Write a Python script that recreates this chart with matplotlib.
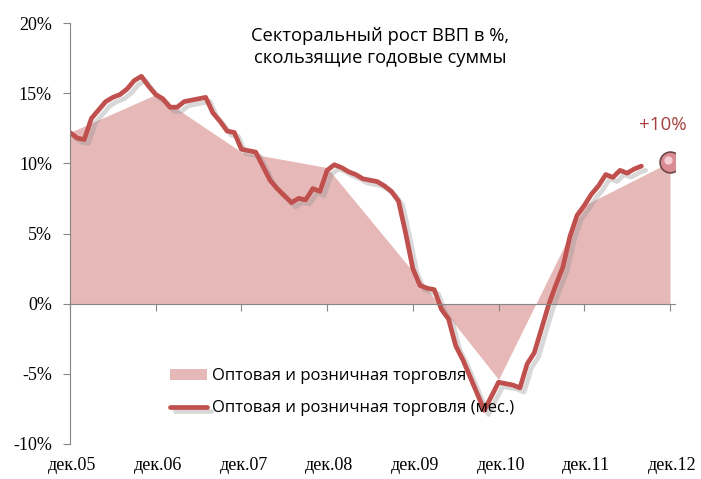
import numpy as np
import matplotlib
import matplotlib.pyplot as plt
import matplotlib.patheffects as pe
from matplotlib.transforms import offset_copy

matplotlib.use('Agg')

# === данные ===
years = ['дек.05', 'дек.06', 'дек.07', 'дек.08', 'дек.09', 'дек.10', 'дек.11', 'дек.12']
year_month = [0, 12, 24, 36, 48, 60, 72, 84]

# годовые значения (заливка)
annual_vals = [12.2, 14.9, 10.8, 9.7, 2.3, -5.4, 7.0, 10.1]

# помесячные значения (линия), с дек.05
monthly_vals = [
    12.2, 11.8, 11.7, 13.2, 13.8, 14.4, 14.7, 14.9, 15.3, 15.9, 16.2, 15.5,
    14.9, 14.6, 14.0, 14.0, 14.4, 14.5, 14.6, 14.7, 13.6, 13.0, 12.3, 12.2,
    11.0, 10.9, 10.8, 9.8, 8.8, 8.2, 7.7, 7.2, 7.5, 7.4, 8.2, 8.0,
    9.5, 9.9, 9.7, 9.4, 9.2, 8.9, 8.8, 8.7, 8.4, 8.0, 7.3, 5.0,
    2.5, 1.3, 1.1, 1.0, -0.4, -1.1, -3.0, -4.0, -5.2, -6.4, -7.6, -6.6,
    -5.6, -5.7, -5.8, -6.0, -4.3, -3.5, -1.8, -0.1, 1.3, 2.6, 4.8, 6.3,
    7.0, 7.8, 8.4, 9.2, 9.0, 9.5, 9.3, 9.6, 9.8,
]
months = np.arange(len(monthly_vals))

y_ticks = [-10, -5, 0, 5, 10, 15, 20]

title = 'Секторальный рост ВВП в %,\nскользящие годовые суммы'
label_area = 'Оптовая и розничная торговля'
label_line = 'Оптовая и розничная торговля (мес.)'

LINE_C = '#c0504d'
AREA_C = '#e6b9b8'
AXIS_C = '#868686'

fig = plt.figure(figsize=(7.01, 4.79), dpi=100)
ax = fig.add_axes([70 / 701, 35 / 479, 605 / 701, 421 / 479])

ax.fill_between(year_month, annual_vals, 0, color=AREA_C, linewidth=0,
                label=label_area)
ax.plot(months, monthly_vals, color=LINE_C, lw=3.4, solid_joinstyle='round',
        solid_capstyle='round', label=label_line,
        path_effects=[pe.SimpleLineShadow(offset=(3, -3), shadow_color='#909090', alpha=0.35),
                      pe.Normal()])

# шарик на последней точке
ax.plot(year_month[-1], annual_vals[-1], 'o', ms=15, mfc='#d98c94', mec='#6e4646',
        mew=1.2, zorder=5)
hl = offset_copy(ax.transData, fig=fig, x=-2, y=2, units='dots')
ax.plot(year_month[-1], annual_vals[-1], 'o', ms=6, mfc='#f3cfd5', mec='none',
        transform=hl, zorder=6)
ax.annotate(f'+{annual_vals[-1]:.0f}%', (year_month[-1], annual_vals[-1]),
            xytext=(-7, 37), textcoords='offset pixels', ha='center', va='center',
            fontsize=13.5, color='#a5403d', family='Open Sans')

ax.set_xlim(0, 84.7)
ax.set_ylim(-10, 20)

for s in ['top', 'right']:
    ax.spines[s].set_visible(False)
ax.spines['left'].set_color(AXIS_C)
ax.spines['bottom'].set_color(AXIS_C)
ax.spines['bottom'].set_position(('data', 0))

ax.set_yticks(y_ticks)
ax.set_yticklabels([f'{v}%' for v in y_ticks], family='Liberation Serif', fontsize=13)
ax.tick_params(axis='y', direction='out', length=5, color=AXIS_C, pad=8)

ax.set_xticks(year_month)
ax.tick_params(axis='x', direction='out', length=5, color=AXIS_C, labelbottom=False)
for m, lab in zip(year_month, years):
    ax.text(m + 0.3, -0.05, lab, transform=ax.get_xaxis_transform(), ha='center',
            va='center', family='Liberation Serif', fontsize=13)

fig.text(380 / 701, 1 - 47 / 479, title, ha='center', va='center', fontsize=13.2,
         family='Open Sans', linespacing=1.3)

ax.legend(loc='upper left', bbox_to_anchor=(162 / 701, 1 - 360 / 479),
          bbox_transform=fig.transFigure, frameon=False, borderpad=0,
          handlelength=2.2, handleheight=0.6, handletextpad=0.3,
          labelspacing=0.95, prop={'family': 'Open Sans', 'size': 12})

fig.savefig('out.png', dpi=100)
